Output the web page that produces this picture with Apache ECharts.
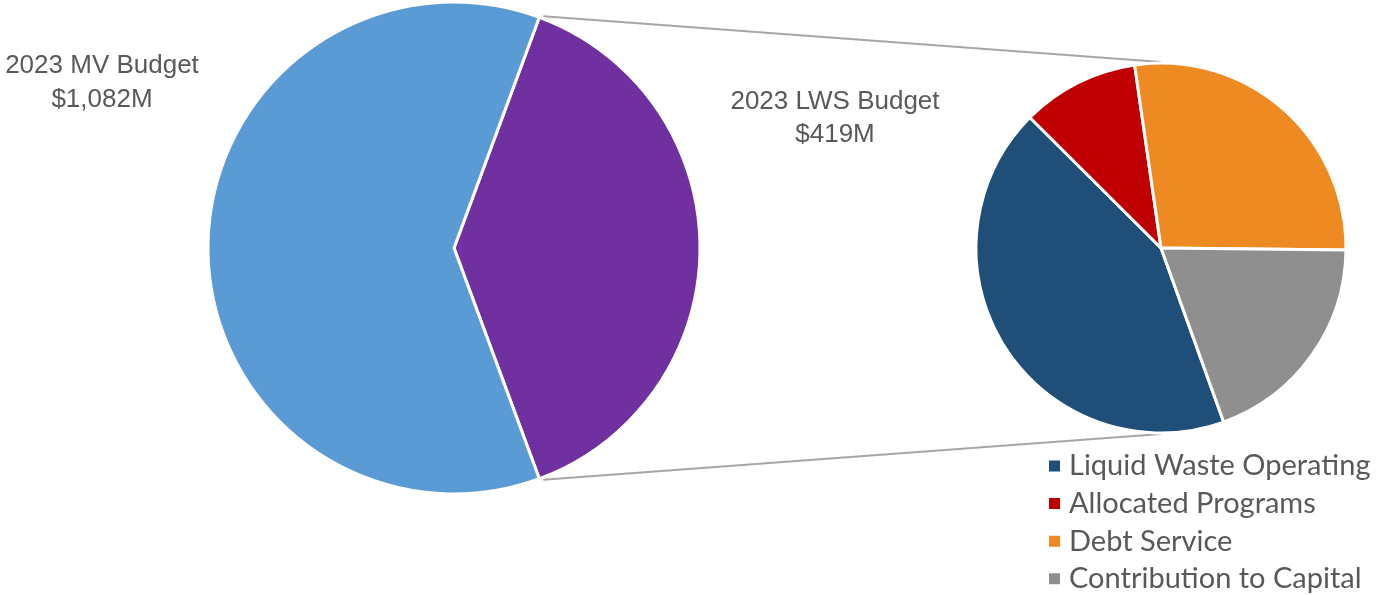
<!DOCTYPE html>
<html><head><meta charset="utf-8">
<script src="https://cdn.jsdelivr.net/npm/echarts@6/dist/echarts.min.js"></script>
<style>html,body{margin:0;padding:0;background:#fff}#c{width:1380px;height:595px}</style>
</head><body><div id="c"></div>
<script>
const mvCategories = ['LWS', 'Other MV'];
const mvValues = [419, 663];
const lwsCategories = ['Liquid Waste Operating', 'Allocated Programs', 'Debt Service', 'Contribution to Capital'];
const lwsValues = [180, 43, 115, 81];
const mvTitle = ['2023 MV Budget', '$1,082M'];
const lwsTitle = ['2023 LWS Budget', '$419M'];

const mvColors = ['#7030A0', '#5B9BD5'];
const lwsColors = ['#1F4E79', '#C00000', '#EE8A22', '#8F8F8F'];

const L = {cx: 454, cy: 248, r: 246};
const R = {cx: 1161, cy: 248, r: 185};

const mvTotal = mvValues.reduce((a,b)=>a+b,0);
const half = mvValues[0] / mvTotal * Math.PI; // half angle of LWS slice

const chart = echarts.init(document.getElementById('c'));
const p1 = [L.cx + L.r * Math.cos(half) + 4, L.cy - L.r * Math.sin(half) - 1];
const p2 = [L.cx + L.r * Math.cos(half) + 4, L.cy + L.r * Math.sin(half) + 1];
chart.setOption({
  animation: false,
  legend: {
    orient: 'vertical', left: 1047, top: 451, height: 300, padding: 0,
    data: lwsCategories,
    icon: 'rect', itemWidth: 13, itemHeight: 13, itemGap: 7.6,
    textStyle: {fontFamily: 'Lato', fontSize: 29, lineHeight: 30, color: '#595959', padding: [0, 0, 0, 3]}
  },
  graphic: [
    {type: 'line', shape: {x1: p1[0], y1: p1[1], x2: R.cx, y2: R.cy - R.r - 1}, style: {stroke: '#A6A6A6', lineWidth: 2}, z: 0},
    {type: 'line', shape: {x1: p2[0], y1: p2[1], x2: R.cx, y2: R.cy + R.r + 1}, style: {stroke: '#A6A6A6', lineWidth: 2}, z: 0},
    {type: 'text', x: 102, y: 49, style: {text: mvTitle.join('\n'), fontFamily: 'Liberation Sans', fontSize: 26, lineHeight: 34, fill: '#595959', textAlign: 'center', textVerticalAlign: 'top'}},
    {type: 'text', x: 835, y: 85, style: {text: lwsTitle.join('\n'), fontFamily: 'Liberation Sans', fontSize: 26, lineHeight: 33, fill: '#595959', textAlign: 'center', textVerticalAlign: 'top'}}
  ],
  series: [
    {
      type: 'pie', center: [L.cx, L.cy], radius: L.r,
      startAngle: half * 180 / Math.PI,
      clockwise: true, label: {show: false}, labelLine: {show: false},
      emphasis: {disabled: true},
      itemStyle: {borderColor: '#fff', borderWidth: 3},
      data: mvCategories.map((n,i)=>({name: n, value: mvValues[i], itemStyle: {color: mvColors[i]}}))
    },
    {
      type: 'pie', center: [R.cx, R.cy], radius: R.r,
      startAngle: -70.2,
      clockwise: true, label: {show: false}, labelLine: {show: false},
      emphasis: {disabled: true},
      itemStyle: {borderColor: '#fff', borderWidth: 3},
      data: lwsCategories.map((n,i)=>({name: n, value: lwsValues[i], itemStyle: {color: lwsColors[i]}}))
    }
  ]
});
</script></body></html>
